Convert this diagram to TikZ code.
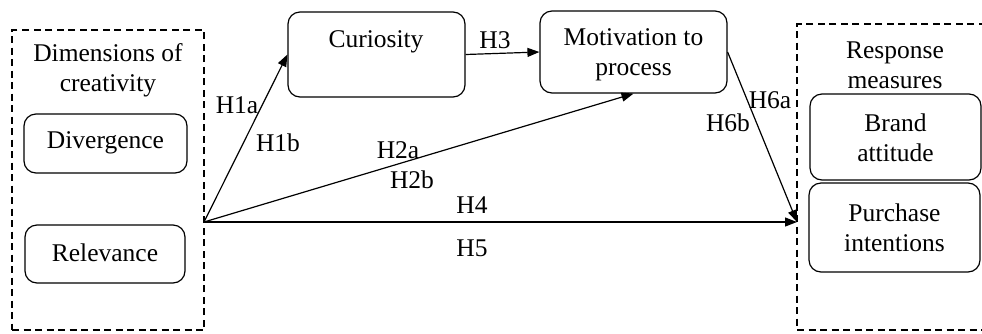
\documentclass[tikz,border=0pt]{standalone}
\usepackage{fontspec}
\setmainfont{Liberation Serif}
\usetikzlibrary{arrows.meta}
\begin{document}
\begin{tikzpicture}[x=1pt,y=-1pt,
  box/.style={draw, rounded corners=12pt, line width=1.2pt, inner sep=0pt},
  grp/.style={draw, dash pattern=on 7pt off 4.5pt, line width=1.4pt, inner sep=0pt},
  txt/.style={font=\fontsize{25.5}{30}\selectfont, inner sep=0pt, align=center},
  arr/.style={-{Triangle[length=12pt,width=9pt]}, line width=1.2pt}]
\useasboundingbox (0,0) rectangle (982,333);
% groups
\node[grp, minimum width=192pt, minimum height=300pt] (gl) at (108,180) {};
\node[grp, minimum width=200pt, minimum height=306pt] (gr) at (897,177) {};
% boxes
\node[box, minimum width=163pt, minimum height=59pt] (div) at (105.5,143.5) {};
\node[box, minimum width=160pt, minimum height=58pt] (rel) at (105,254) {};
\node[box, minimum width=177pt, minimum height=85pt] (cur) at (376.5,54.5) {};
\node[box, minimum width=187pt, minimum height=82pt] (mot) at (633.5,52) {};
\node[box, minimum width=171pt, minimum height=86pt] (bra) at (895.5,137) {};
\node[box, minimum width=171pt, minimum height=89pt] (pur) at (894.5,227.5) {};
% texts
\node[txt] (tdim) at (108,70) {Dimensions of\\creativity};
\node[txt] (tdiv) at (105.5,143) {Divergence};
\node[txt] (trel) at (105,253) {Relevance};
\node[txt] (tcur) at (376,42) {Curiosity};
\node[txt] (tmot) at (633.5,55) {Motivation to\\process};
\node[txt] (tres) at (895,65) {Response\\measures};
\node[txt] (tbra) at (895.5,138) {Brand\\attitude};
\node[txt] (tpur) at (894.5,228) {Purchase\\intentions};
% connector points
\coordinate (o) at (204,222);
\coordinate (resp) at (797,222);
% arrows
\draw[arr] (o) -- (cur.west);
\draw[arr] (o) -- (mot.south);
\draw[arr] (o) -- (resp);
\draw[arr] (cur.east) -- (mot.west);
\draw[arr] (mot.east) -- (resp);
% labels
\node[txt] (h1a) at (237,105) {H1a};
\node[txt] (h1b) at (278,143) {H1b};
\node[txt] (h2a) at (398,150) {H2a};
\node[txt] (h2b) at (412,180) {H2b};
\node[txt] (h3) at (495,40) {H3};
\node[txt] (h4) at (472,205) {H4};
\node[txt] (h5) at (472,248) {H5};
\node[txt] (h6a) at (770,100) {H6a};
\node[txt] (h6b) at (728,123) {H6b};
\end{tikzpicture}
\end{document}
